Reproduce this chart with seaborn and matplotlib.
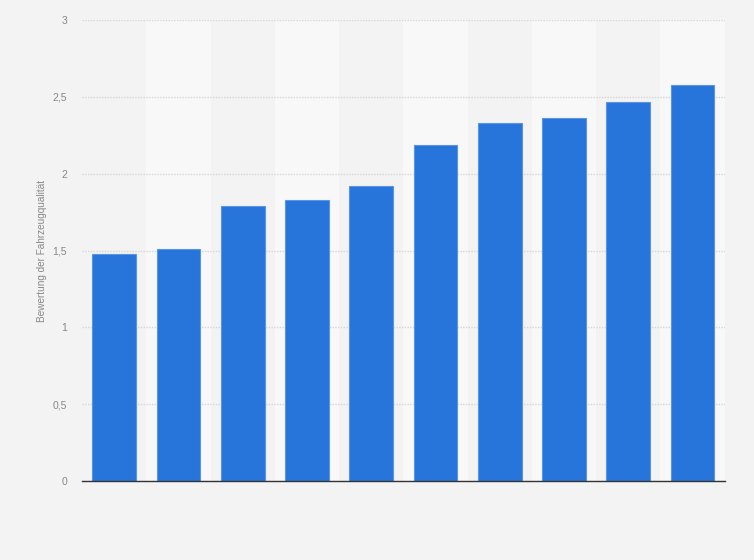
import pandas as pd
import seaborn as sns
import matplotlib.pyplot as plt
from matplotlib.ticker import FuncFormatter

# no category labels are shown in the original chart
categories = ['A', 'B', 'C', 'D', 'E', 'F', 'G', 'H', 'I', 'J']
values = [1.48, 1.51, 1.79, 1.83, 1.92, 2.19, 2.33, 2.36, 2.47, 2.58]
y_ticks = [0, 0.5, 1, 1.5, 2, 2.5, 3]
y_label = 'Bewertung der Fahrzeugqualität'

df = pd.DataFrame({'Kategorie': categories, 'Wert': values})

sns.set_style('white')
plt.rcParams['font.family'] = ['Liberation Sans', 'DejaVu Sans']

fig = plt.figure(figsize=(7.54, 5.60), dpi=100, facecolor='#f3f3f3')
ax = fig.add_axes([0.109, 0.141, 0.852, 0.823])
ax.set_facecolor('#f3f3f3')

# lighter background bands behind every second category
for i in range(1, len(categories), 2):
    ax.axvspan(i - 0.5, i + 0.5, color='#f8f8f8', zorder=0, lw=0)

sns.barplot(data=df, x='Kategorie', y='Wert', color='#2775db', width=0.68,
            saturation=1, edgecolor='#5a95e4', linewidth=0.8, ax=ax, zorder=3)

ax.set_xlim(-0.5, len(categories) - 0.5)
ax.set_ylim(0, 3)
ax.set_yticks(y_ticks)
ax.yaxis.set_major_formatter(FuncFormatter(lambda v, p: f'{v:g}'.replace('.', ',')))
ax.grid(axis='y', color='#d6d6d6', linestyle=(0, (1, 1)), linewidth=1.0, zorder=1)
ax.set_axisbelow(True)

ax.set_xticks([])
ax.set_xlabel('')
ax.set_ylabel(y_label, fontsize=7.2, color='#888888')
ax.yaxis.set_label_coords(-0.054, 0.5)
ax.tick_params(axis='y', length=0, pad=11, labelsize=7.5, labelcolor='#888888')

for side in ['top', 'right', 'left']:
    ax.spines[side].set_visible(False)
ax.spines['bottom'].set_color('#333333')
ax.spines['bottom'].set_linewidth(1.0)
ax.spines['bottom'].set_zorder(5)

plt.savefig('out.png', dpi=100, facecolor=fig.get_facecolor())
